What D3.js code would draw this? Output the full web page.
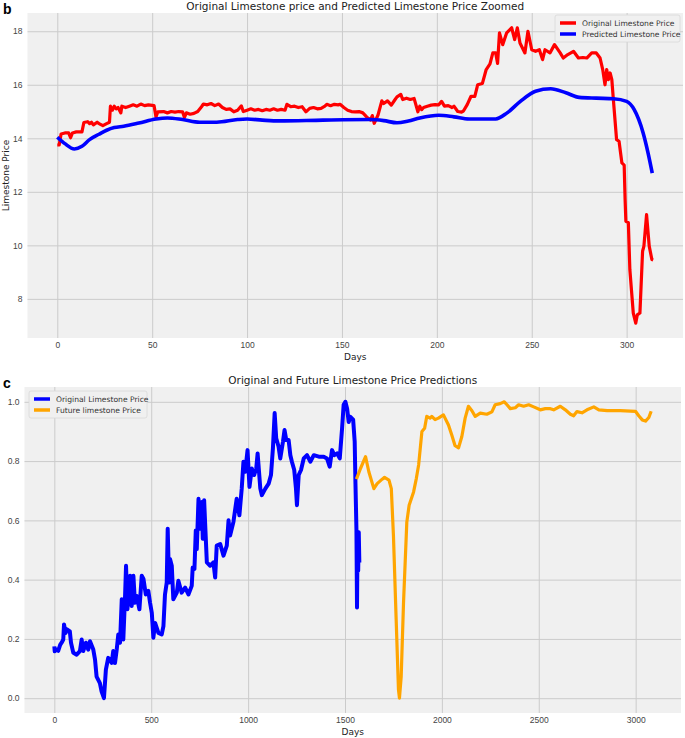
<!DOCTYPE html>
<html>
<head>
<meta charset="utf-8">
<script src="https://cdn.jsdelivr.net/npm/d3@7"></script>
<style>
  body { margin: 0; background: #fff; }
  svg { display: block; font-family: "DejaVu Sans", sans-serif; }
  .tick text { fill: #444; font-size: 8.5px; }
  .grid line { stroke: #cbcbcb; stroke-width: 1; }
</style>
</head>
<body>
<div id="chart"></div>
<script>
// panel b: original vs predicted (zoomed)
const bOrigDays = [0,1,2,4,6,7,8,10,13,14,16,17,18,19,21,22,24,26,27.5,28,29,30,31,32,33.5,34,36,38,40,42,44,46,48,51,52,53,56,58,60,62,64,66,67,68,70,72,74,76,77,79,81,83,85,87,89,91,93,95,97,98,100,102,104,106,108,110,112,114,116,118,120,121,123,125,127,129,131,133,135,137,139,141,142,144,146,148,149,151,153,155,157,159,161,163,165,166,167,169,171,172,174,176,178,179,181,182,184,186,188,190,191,192,193,195,197,199,201,202.5,204,206,208,209,211,213,214,216,218,220,221.5,224,226,228,229.5,231,232,233,234.7,236.8,239.4,241,242.4,243.8,246.4,248,250,252,254,255.7,257,259.6,262,265,266.6,269,272,274.6,277,279,281.6,284,286,287.4,288.6,289.5,290.4,291.3,292.2,293,294.7,296,297.5,298.7,299.2,299.6,300.9,301.7,303.5,304.8,305.6,307,308.4,309.1,310.5,311.9,313.3,314];
const bOrigPrice = [13.75,13.75,14.16,14.2,14.2,14.02,14.2,14.24,14.24,14.59,14.62,14.55,14.6,14.5,14.6,14.55,14.47,14.55,14.6,15.2,15.05,15.2,15.1,15.15,14.95,15.2,15.15,15.2,15.25,15.2,15.28,15.22,15.25,15.22,14.8,14.99,15.0,14.95,15.0,14.98,15.0,14.99,14.78,14.95,14.9,14.93,15.0,15.18,15.28,15.25,15.3,15.22,15.28,15.15,15.08,15.1,14.99,15.05,15.21,15.0,15.05,15.1,15.05,15.08,15.03,15.08,15.05,15.1,15.05,15.08,15.05,15.27,15.18,15.2,15.15,15.18,14.99,15.12,15.15,15.1,15.12,15.2,15.27,15.22,15.27,15.25,15.27,15.15,15.05,15.0,14.99,15.0,14.95,14.8,14.68,14.85,14.56,14.87,15.4,15.3,15.4,15.24,15.45,15.55,15.64,15.45,15.5,15.45,15.49,14.99,15.2,15.07,15.15,15.2,15.24,15.26,15.25,15.38,15.2,15.22,15.15,15.2,15.0,14.98,15.02,15.26,15.57,15.57,16.0,16.05,16.57,16.78,17.19,17.19,16.8,17.94,17.5,17.94,18.13,17.69,18.13,17.56,17.19,18.0,17.31,17.25,17.31,16.94,17.31,17.19,17.5,17.19,17.0,17.13,17.25,17.0,17.02,17.0,17.19,17.19,17.0,16.57,16.0,16.57,16.19,16.44,16.19,15.45,13.95,13.89,13.08,13.0,11.7,10.9,10.85,9.09,7.47,7.09,7.4,7.47,9.78,9.97,11.15,9.97,9.47,9.45];
const bPredDays = [0,4,9,13,17,22,26,30,35,43,52,58,66,75,84,95,100,108,117,140,165,172,179,185,191,201,209,217,231,237,244,252,260,268,275,284,293,300,304,308.7,311.3,313.5];
const bPredPrice = [14.04,13.8,13.6,13.7,13.95,14.15,14.3,14.4,14.45,14.57,14.72,14.76,14.7,14.6,14.6,14.7,14.72,14.68,14.65,14.68,14.7,14.66,14.58,14.65,14.76,14.86,14.8,14.72,14.72,14.95,15.38,15.76,15.85,15.7,15.53,15.5,15.48,15.38,15.07,14.2,13.45,12.7];
const bXTicks = [0,50,100,150,200,250,300];
const bYTicks = [8,10,12,14,16,18];

// panel c: original and future (scaled)
const cOrigDays = [0,2,10,20,30,40,46,50,58,65,80,86,98,115,132,141,149,163,175,184,201,210,218,235,244,256,266,278,296,304,313,322,330,339,348,356,365,370,377,391,399,408,416,425,439,451,460,472,485,494,503,511,520,537,554,563,571,580,585,592,597,606,614,632,640,657,675,692,709,714,723,730,735,744,752,761,766,773,787,804,821,830,838,856,873,890,899,907,924,941,955,967,976,985,997,1007,1019,1031,1042,1049,1063,1071,1089,1106,1118,1128,1137,1145,1157,1166,1180,1188,1197,1209,1218,1226,1238,1247,1252,1261,1273,1287,1304,1321,1339,1365,1390,1407,1421,1433,1445,1459,1473,1485,1493,1502,1511,1519,1528,1542,1550,1554,1559,1562,1565,1568,1571,1574];
const cOrigPrice = [0.175,0.158,0.165,0.16,0.18,0.19,0.198,0.249,0.22,0.232,0.225,0.187,0.153,0.147,0.159,0.198,0.159,0.187,0.164,0.192,0.164,0.13,0.073,0.051,0.022,0.0,0.096,0.136,0.119,0.159,0.119,0.164,0.215,0.187,0.334,0.198,0.345,0.447,0.3,0.413,0.311,0.413,0.322,0.345,0.3,0.413,0.402,0.35,0.362,0.322,0.288,0.204,0.254,0.22,0.215,0.243,0.35,0.39,0.572,0.39,0.47,0.447,0.334,0.356,0.396,0.356,0.373,0.35,0.379,0.441,0.436,0.566,0.503,0.673,0.572,0.662,0.538,0.668,0.458,0.447,0.458,0.407,0.515,0.52,0.481,0.515,0.6,0.549,0.594,0.673,0.617,0.707,0.798,0.764,0.837,0.713,0.775,0.753,0.775,0.826,0.707,0.685,0.707,0.724,0.753,0.843,0.962,0.877,0.849,0.809,0.866,0.905,0.871,0.871,0.82,0.798,0.77,0.707,0.651,0.753,0.77,0.809,0.82,0.798,0.82,0.815,0.815,0.809,0.781,0.837,0.82,0.826,0.809,0.911,0.99,1.0,0.977,0.932,0.949,0.94,0.866,0.724,0.571,0.306,0.56,0.43,0.56,0.458];
const cFutDays = [1559,1580,1606,1623,1649,1666,1692,1704,1727,1739,1750,1764,1776,1781,1790,1802,1819,1831,1854,1868,1880,1897,1911,1922,1939,1948,1965,1982,2008,2034,2051,2068,2086,2103,2120,2137,2155,2172,2198,2232,2258,2275,2301,2322,2336,2353,2379,2396,2422,2448,2474,2508,2534,2560,2577,2611,2637,2663,2680,2697,2723,2749,2784,2810,2853,2921,2999,3016,3034,3051,3068,3080];
const cFutPrice = [0.739,0.775,0.815,0.764,0.707,0.724,0.739,0.745,0.736,0.707,0.549,0.266,0.028,0.0,0.073,0.322,0.594,0.651,0.696,0.741,0.787,0.9,0.911,0.951,0.945,0.951,0.94,0.945,0.956,0.922,0.888,0.852,0.845,0.883,0.945,0.985,0.97,0.951,0.962,0.958,0.966,0.99,0.994,1.0,0.99,0.977,0.98,0.99,0.985,0.99,0.983,0.973,0.977,0.977,0.973,0.985,0.973,0.958,0.953,0.967,0.963,0.973,0.983,0.973,0.97,0.97,0.968,0.953,0.939,0.935,0.947,0.968];
const cXTicks = [0,500,1000,1500,2000,2500,3000];
const cYTicks = [0,0.2,0.4,0.6,0.8,1.0];

const W = 685, H = 738;
const svg = d3.select("#chart").append("svg").attr("width", W).attr("height", H);

// matplotlib style 5% margins
function padded(vals) {
    let [lo, hi] = d3.extent(vals);
    let m = (hi - lo) * 0.05;
    return [lo - m, hi + m];
}

function panel(cfg) {
    const {box, series, xTicks, yTicks, yFmt, title, letter, ylabel, legend} = cfg;
    const allX = [].concat(...series.map(s => s.x));
    const allY = [].concat(...series.map(s => s.y));
    const x = d3.scaleLinear().domain(padded(allX)).range([box.x0, box.x1]);
    const y = d3.scaleLinear().domain(padded(allY)).range([box.y1, box.y0]);

    svg.append("rect")
        .attr("x", box.x0).attr("y", box.y0)
        .attr("width", box.x1 - box.x0).attr("height", box.y1 - box.y0)
        .attr("fill", "#f0f0f0");

    // grid
    svg.append("g").attr("class", "grid")
        .attr("transform", `translate(0,${box.y1})`)
        .call(d3.axisBottom(x).tickValues(xTicks).tickSize(-(box.y1 - box.y0)).tickFormat(""))
        .call(g => g.select(".domain").remove());
    svg.append("g").attr("class", "grid")
        .attr("transform", `translate(${box.x0},0)`)
        .call(d3.axisLeft(y).tickValues(yTicks).tickSize(-(box.x1 - box.x0)).tickFormat(""))
        .call(g => g.select(".domain").remove());

    // tick labels
    svg.append("g")
        .attr("transform", `translate(0,${box.y1})`)
        .call(d3.axisBottom(x).tickValues(xTicks).tickSize(0).tickPadding(4).tickFormat(d3.format("d")))
        .call(g => g.select(".domain").remove());
    svg.append("g")
        .attr("transform", `translate(${box.x0},0)`)
        .call(d3.axisLeft(y).tickValues(yTicks).tickSize(0).tickPadding(5).tickFormat(yFmt))
        .call(g => g.select(".domain").remove());

    const line = d3.line().x(d => x(d[0])).y(d => y(d[1]));
    series.forEach(s => {
        svg.append("path")
            .datum(s.x.map((d, i) => [d, s.y[i]]))
            .attr("fill", "none")
            .attr("stroke", s.color)
            .attr("stroke-width", s.width)
            .attr("stroke-linejoin", "round")
            .attr("d", line.curve(s.smooth ? d3.curveMonotoneX : d3.curveLinear));
    });

    const midX = (box.x0 + box.x1) / 2;
    svg.append("text")
        .attr("x", midX).attr("y", box.y0 - 3)
        .attr("text-anchor", "middle")
        .style("font-size", "10.5px").style("fill", "#222")
        .text(title);
    svg.append("text")
        .attr("x", 3).attr("y", box.y0 + 1)
        .style("font-size", "14px").style("font-weight", "bold")
        .style("font-family", "Liberation Sans, Arial, sans-serif")
        .text(letter);
    svg.append("text")
        .attr("x", midX).attr("y", box.y1 + 22)
        .attr("text-anchor", "middle")
        .style("font-size", "9px").style("fill", "#222")
        .text("Days");
    if (ylabel) {
        svg.append("text")
            .attr("transform", `translate(9,${(box.y0 + box.y1) / 2}) rotate(-90)`)
            .attr("text-anchor", "middle")
            .style("font-size", "9px").style("fill", "#222")
            .text(ylabel);
    }

    // legend
    const lg = svg.append("g").attr("transform", `translate(${legend.x},${legend.y})`);
    lg.append("rect")
        .attr("width", legend.w).attr("height", series.length * 11 + 5)
        .attr("rx", 2)
        .attr("fill", "#f0f0f0").attr("stroke", "#d8d8d8").attr("stroke-width", 0.8);
    series.forEach((s, i) => {
        const ly = 8 + i * 11;
        lg.append("line")
            .attr("x1", 5).attr("x2", 21).attr("y1", ly).attr("y2", ly)
            .attr("stroke", s.color).attr("stroke-width", 3.5);
        lg.append("text")
            .attr("x", 27).attr("y", ly).attr("dy", "0.35em")
            .style("font-size", "7.6px").style("fill", "#333")
            .text(s.name);
    });
}

panel({
    box: {x0: 27.5, x1: 683, y0: 13, y1: 338},
    series: [
        {name: "Original Limestone Price", x: bOrigDays, y: bOrigPrice, color: "#ff0000", width: 3.2},
        {name: "Predicted Limestone Price", x: bPredDays, y: bPredPrice, color: "#0000ff", width: 3.6, smooth: true}
    ],
    xTicks: bXTicks, yTicks: bYTicks, yFmt: d3.format("d"),
    title: "Original Limestone price and Predicted Limestone Price Zoomed",
    letter: "b", ylabel: "Limestone Price",
    legend: {x: 555, y: 15, w: 125}
});

panel({
    box: {x0: 24.5, x1: 681, y0: 387, y1: 713},
    series: [
        {name: "Original Limestone Price", x: cOrigDays, y: cOrigPrice, color: "#0000ff", width: 4},
        {name: "Future limestone Price", x: cFutDays, y: cFutPrice, color: "#ffa500", width: 3.2}
    ],
    xTicks: cXTicks, yTicks: cYTicks, yFmt: d3.format(".1f"),
    title: "Original and Future Limestone Price Predictions",
    letter: "c", ylabel: null,
    legend: {x: 29, y: 391, w: 118}
});
</script>
</body>
</html>
